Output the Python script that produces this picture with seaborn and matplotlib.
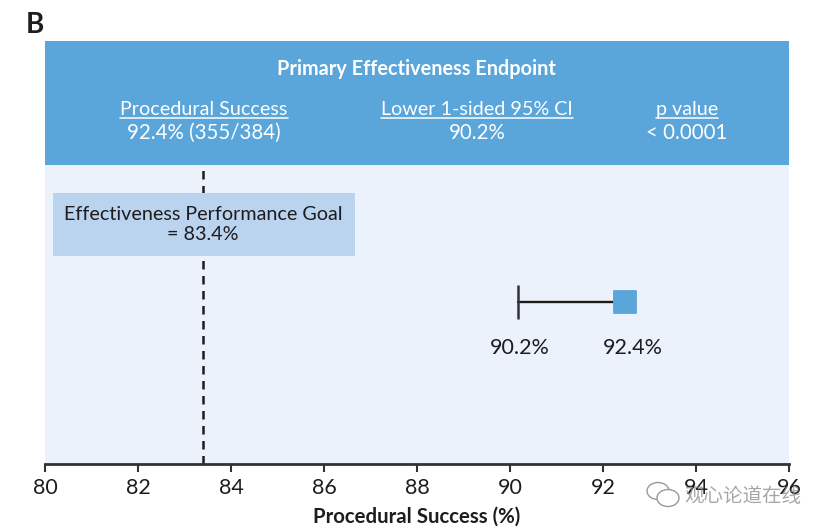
# %%
import matplotlib.pyplot as plt
import pandas as pd
import seaborn as sns
from matplotlib.patches import Ellipse, Rectangle

# %%
x_ticks = [80, 82, 84, 86, 88, 90, 92, 94, 96]
goal = 83.4
ci_lower = 90.18
estimate = 92.48
row_y = 0.383

header_title = "Primary Effectiveness Endpoint"
col_heads = ["Procedural Success", "Lower 1-sided 95% CI", "p value"]
col_values = ["92.4% (355/384)", "90.2%", "< 0.0001"]
goal_label = "Effectiveness Performance Goal\n= 83.4%"
ci_label = "90.2%"
est_label = "92.4%"
x_label = "Procedural Success (%)"
watermark = "观心论道在线"

BLUE = "#5aa5da"
PALE = "#ebf2fb"
BOX = "#bad3ee"
INK = "#1e1c1c"
FS = 15.5
FS_WORDS = 14.2
FS_VALUES = 14.8

# %%
sns.set_theme(style="white")
plt.rcParams["font.family"] = ["Lato", "Noto Sans CJK SC", "DejaVu Sans"]

W, H = 830, 532
fig = plt.figure(figsize=(W / 100, H / 100), dpi=100)
ax = fig.add_axes([45 / W, 1 - 464 / H, 744 / W, 423 / H])
ax.set_facecolor(PALE)

# estimate with lower bound
ci_df = pd.DataFrame({"x": [ci_lower, estimate], "y": [row_y, row_y]})
sns.lineplot(data=ci_df, x="x", y="y", color=INK, lw=1.7, ax=ax, zorder=3)
sns.scatterplot(x=[ci_lower], y=[row_y], marker="|", s=620, color="#333333",
                linewidth=1.8, ax=ax, zorder=3)
sns.scatterplot(x=[estimate], y=[row_y], marker="s", s=270, color=BLUE,
                edgecolor=BLUE, ax=ax, zorder=4)

ax.set_xlim(80, 96)
ax.set_ylim(0, 1)
ax.set_yticks([])
ax.set_xticks(x_ticks)
ax.tick_params(axis="x", bottom=True, length=6, width=1.5, color="#333333",
               labelsize=FS, labelcolor=INK, pad=4)
sns.despine(ax=ax, left=True, top=True, right=True)
ax.spines["bottom"].set_linewidth(2)
ax.spines["bottom"].set_color("#333333")
ax.set_xlabel(x_label, fontsize=14.7, fontweight="bold", color=INK, labelpad=6)
ax.set_ylabel("")

# header band, 124 px of the 423 px axes
band_y = 1 - 124 / 423
ax.add_patch(Rectangle((0, band_y), 1, 1 - band_y, transform=ax.transAxes,
                       color=BLUE, lw=0, zorder=3))
ax.text(0.4987, 0.9335, header_title, transform=ax.transAxes, ha="center",
        va="center", color="white", fontsize=14.3, fontweight="bold", zorder=4)
fig.canvas.draw()
for cx, head, val in zip([0.2137, 0.5806, 0.863], col_heads, col_values):
    head_txt = ax.text(cx, 0.837, head, transform=ax.transAxes, ha="center", va="center",
                       color="white", fontsize=FS_WORDS, zorder=4)
    ax.text(cx, 0.7825, val, transform=ax.transAxes, ha="center", va="center",
            color="white", fontsize=FS_VALUES, zorder=4)
    # underline as wide as the heading
    bb = head_txt.get_window_extent(fig.canvas.get_renderer()).transformed(ax.transAxes.inverted())
    ax.plot([bb.x0, bb.x1], [0.8175, 0.8175], transform=ax.transAxes, color="white",
            lw=1.1, zorder=4)

# goal line and its box
ax.axvline(goal, ymax=band_y, color=INK, lw=1.8, ls=(0, (3.4, 2.6)), zorder=1)
ax.add_patch(Rectangle((8 / 744, 1 - 215 / 423), 302 / 744, 63 / 423, transform=ax.transAxes,
                       color=BOX, lw=0, zorder=2))
ax.text(goal, 1 - 183.5 / 423, goal_label, ha="center", va="center", color=INK,
        fontsize=FS_WORDS, linespacing=1.25, zorder=3)

ax.text(90.22, 0.2745, ci_label, ha="center", va="center", color=INK, fontsize=FS)
ax.text(92.64, 0.2745, est_label, ha="center", va="center", color=INK, fontsize=FS)

# panel letter and the watermark
fig.text(26 / W, 1 - 25 / H, "B", ha="left", va="center", color=INK, fontsize=20, fontweight="bold")
fig.text(684 / W, 1 - 496 / H, watermark, ha="left", va="center", color="#8a8a8a",
         fontsize=14, alpha=0.75)
for ex, ey in [(658, 491), (668, 498)]:
    fig.add_artist(Ellipse((ex / W, 1 - ey / H), 22 / W, 17 / H, transform=fig.transFigure,
                           facecolor="white", edgecolor="#9a9a9a", lw=1))

fig.savefig("out.png", dpi=100)
